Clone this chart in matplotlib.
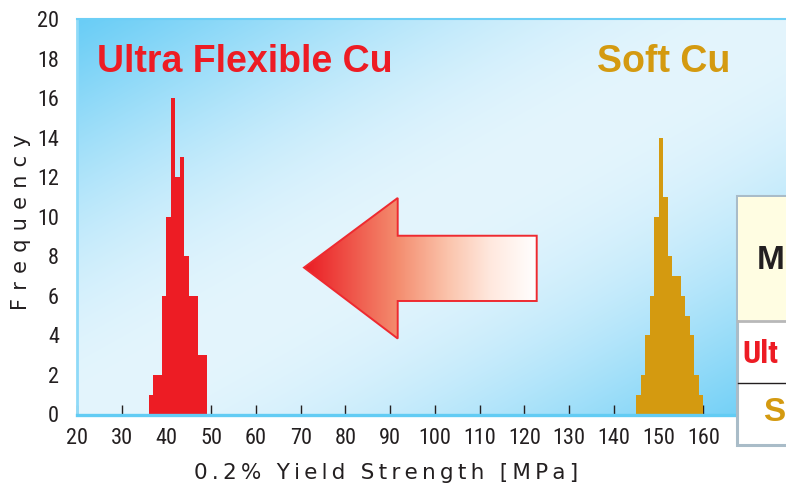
import numpy as np
import matplotlib
matplotlib.use("Agg")
import matplotlib.pyplot as plt
from matplotlib import font_manager
from matplotlib.patches import Polygon, Rectangle

# histogram data (bin left edge, 1 MPa wide bins)
red_bins = [36, 37, 38, 39, 40, 41, 42, 43, 44, 45, 46, 47, 48]
red_counts = [1, 2, 2, 6, 10, 16, 12, 13, 8, 6, 6, 3, 3]
gold_bins = [145, 146, 147, 148, 149, 150, 151, 152, 153, 154, 155, 156, 157, 158, 159]
gold_counts = [1, 2, 4, 6, 10, 14, 11, 8, 7, 7, 6, 5, 4, 2, 1]

x_ticks = [20, 30, 40, 50, 60, 70, 80, 90, 100, 110, 120, 130, 140, 150, 160]
y_ticks = [0, 2, 4, 6, 8, 10, 12, 14, 16, 18, 20]

RED = "#ed1c24"
GOLD = "#d49a10"
DARK = "#231f20"
TS = "\u2009"  # thin space, used to spread the axis titles

# look for a narrow sans font, the reference tick labels are condensed
fonts = font_manager.fontManager.ttflist
names = {f.name for f in fonts}
narrow = None
for n in ["Liberation Sans Narrow", "Roboto Condensed", "Open Sans Condensed", "Noto Sans Condensed",
          "DejaVu Sans Condensed"]:
    if n in names:
        narrow = {"fontfamily": n}
        break
if narrow is None:
    for f in fonts:
        if f.name in ("DejaVu Sans", "Noto Sans", "Open Sans", "Roboto", "Liberation Sans") and \
                str(f.stretch) in ("condensed", "semi-condensed", "extra-condensed"):
            narrow = {"fontfamily": f.name, "fontstretch": str(f.stretch)}
            break
if narrow is None:
    narrow = {"fontfamily": "Liberation Sans"}
    tick_size = 14.5
else:
    tick_size = 16

fig = plt.figure(figsize=(7.86, 4.92), dpi=100)
W_PX, H_PX = 786, 492

# main axes, placed in pixels
left, right, top, bottom = 77, 786, 19, 414.5
ax = fig.add_axes([left / W_PX, 1 - bottom / H_PX, (right - left) / W_PX, (bottom - top) / H_PX])
x_right = 20 + (right - left) / 4.474

# blue diagonal background: blue in the top-left and bottom-right corners
H, W = 394, 709
yy, xx = np.mgrid[0:H, 0:W]
s = (xx / W + yy / H) / 2
t = np.sin(np.pi * s) ** 1.1
blue = np.array([105, 205, 246]) / 255
light = np.array([228, 245, 253]) / 255
bg = blue + (light - blue) * t[..., None]
ax.imshow(bg, extent=[20, x_right, 0, 20], aspect="auto", origin="upper", zorder=0)

# histograms
ax.bar(red_bins, red_counts, width=1.0, align="edge", color=RED, linewidth=0, zorder=2)
ax.bar(gold_bins, gold_counts, width=1.0, align="edge", color=GOLD, linewidth=0, zorder=2)

# big arrow pointing left, red -> white gradient
arrow_pts = [(70.74, 7.43), (91.68, 10.95), (91.68, 9.04), (122.75, 9.04),
             (122.75, 5.74), (91.68, 5.74), (91.68, 3.84)]
arrow = Polygon(arrow_pts, closed=True, facecolor="none", edgecolor="none")
ax.add_patch(arrow)
stops = np.array([[234, 28, 36], [244, 140, 110], [251, 196, 172], [255, 232, 222], [255, 255, 255]]) / 255
pos = np.array([0.0, 0.4, 0.62, 0.8, 1.0])
g = np.linspace(0, 1, 300)
grad = np.stack([np.interp(g, pos, stops[:, k]) for k in range(3)], axis=-1)[None, :, :]
im = ax.imshow(grad, extent=[70.74, 122.75, 3.84, 10.95], aspect="auto", zorder=3, interpolation="bilinear")
im.set_clip_path(arrow)
ax.add_patch(Polygon(arrow_pts, closed=True, facecolor="none", edgecolor="#ee2a30", linewidth=1.4, zorder=4))

ax.set_xlim(20, x_right)
ax.set_ylim(0, 20)

ax.set_xticks(x_ticks, labels=[str(v) for v in x_ticks], fontsize=tick_size, color=DARK, **narrow)
ax.set_yticks(y_ticks, labels=[str(v) for v in y_ticks], fontsize=tick_size, color=DARK, **narrow)
ax.tick_params(axis="x", direction="in", length=7, width=1, color=DARK, pad=10)
ax.tick_params(axis="y", length=0, pad=13)

ax.spines["bottom"].set_color("#62ccf4")
ax.spines["bottom"].set_linewidth(2.4)
ax.spines["top"].set_color("#6dcff6")
ax.spines["top"].set_linewidth(1.5)
ax.spines["left"].set_color("#8fdaf8")
ax.spines["left"].set_linewidth(2.0)
ax.spines["right"].set_visible(False)

# in-plot labels
fig.text(97 / W_PX, 1 - 72 / H_PX, "Ultra Flexible Cu", color=RED, fontsize=27,
         fontweight="bold", fontfamily="Liberation Sans", va="baseline", ha="left")
fig.text(597 / W_PX, 1 - 72 / H_PX, "Soft Cu", color=GOLD, fontsize=27,
         fontweight="bold", fontfamily="Liberation Sans", va="baseline", ha="left")

# axis titles with letter spacing
xlab = "0.2% Yield Strength [MPa]"
fig.text(386 / W_PX, 1 - 473 / H_PX, TS.join(xlab), fontsize=15.5, color=DARK,
         ha="center", va="center", fontfamily="DejaVu Sans")
fig.text(21 / W_PX, 1 - 222 / H_PX, (TS * 2).join("Frequency"), fontsize=15, color=DARK,
         ha="center", va="center", rotation=90, fontfamily="DejaVu Sans")

# table, only its left edge is inside the picture
tax = fig.add_axes([733 / W_PX, 1 - 448 / H_PX, 200 / W_PX, (448 - 193) / H_PX])
tax.set_xlim(733, 933)
tax.set_ylim(448, 193)
tax.axis("off")
tax.add_patch(Rectangle((736.5, 196), 300, 249, facecolor="white", edgecolor="#a9bcc8", linewidth=2.2))
tax.add_patch(Rectangle((738, 197.5), 300, 123, facecolor="#fffde2", edgecolor="none"))
tax.plot([738, 933], [321.5, 321.5], color="#b8b8b8", linewidth=2)
tax.plot([738, 933], [383, 383], color=DARK, linewidth=1)
tax.text(757, 261, "M", fontsize=24, fontweight="bold", color=DARK,
         fontfamily="Liberation Sans", ha="left", va="center")
tax.text(742, 354, "Ult", fontsize=23, fontweight="bold", color=RED,
         ha="left", va="center", **narrow)
tax.text(763, 413, "S", fontsize=24, fontweight="bold", color=GOLD,
         fontfamily="Liberation Sans", ha="left", va="center")

fig.savefig("out.png", dpi=100)
